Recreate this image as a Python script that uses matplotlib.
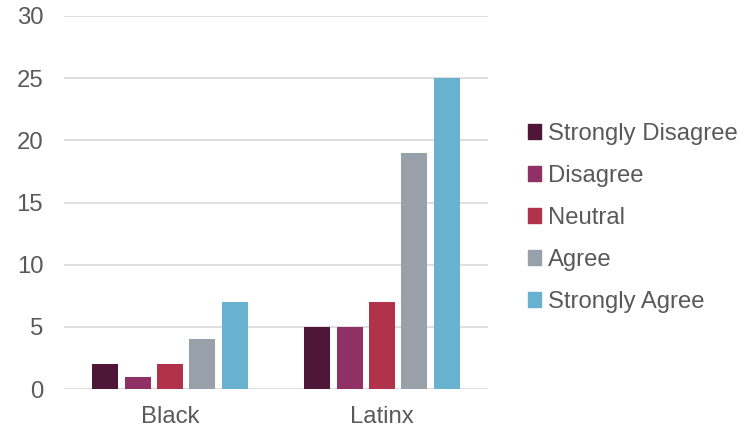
import numpy as np
import matplotlib.pyplot as plt
from matplotlib.patches import Patch

plt.rcParams['font.family'] = ['Liberation Sans', 'DejaVu Sans']

groups = ["Black", "Latinx"]
series = ["Strongly Disagree", "Disagree", "Neutral", "Agree", "Strongly Agree"]
values = [
    [2, 5],    # Strongly Disagree
    [1, 5],    # Disagree
    [2, 7],    # Neutral
    [4, 19],   # Agree
    [7, 25],   # Strongly Agree
]
colors = ["#4F1737", "#8F3165", "#B0324B", "#98A0AA", "#68B2CF"]
TEXT = "#595959"
GRID = "#D9D9D9"
FS = 17.2

fig = plt.figure(figsize=(7.51, 4.30), dpi=100)
ax = fig.add_axes([0.0852, 0.0953, 0.5646, 0.8675])

x = np.arange(len(groups))
bar_w = 0.123
pitch = 0.153
for i, (name, vals) in enumerate(zip(series, values)):
    offs = (i - 2) * pitch
    ax.bar(x + offs, vals, width=bar_w, color=colors[i], label=name, zorder=3)

ax.set_xlim(-0.5, 1.5)
ax.set_ylim(0, 30)
ax.set_yticks(range(0, 31, 5))
ax.set_xticks(x)
ax.set_xticklabels(groups)
ax.yaxis.grid(True, color=GRID, linewidth=1.2, zorder=0)
for s in ax.spines.values():
    s.set_visible(False)
ax.tick_params(axis='both', length=0, colors=TEXT, labelsize=FS)
ax.tick_params(axis='y', pad=15)
ax.tick_params(axis='x', pad=12)

handles = [Patch(color=c, label=n) for c, n in zip(colors, series)]
fig.legend(handles=handles, loc='center left', bbox_to_anchor=(0.703, 0.493),
           frameon=False, fontsize=FS, labelcolor=TEXT, handlelength=0.55,
           handleheight=0.55, handletextpad=0.3, labelspacing=0.84,
           borderpad=0, borderaxespad=0)

fig.savefig("out.png", dpi=100)
